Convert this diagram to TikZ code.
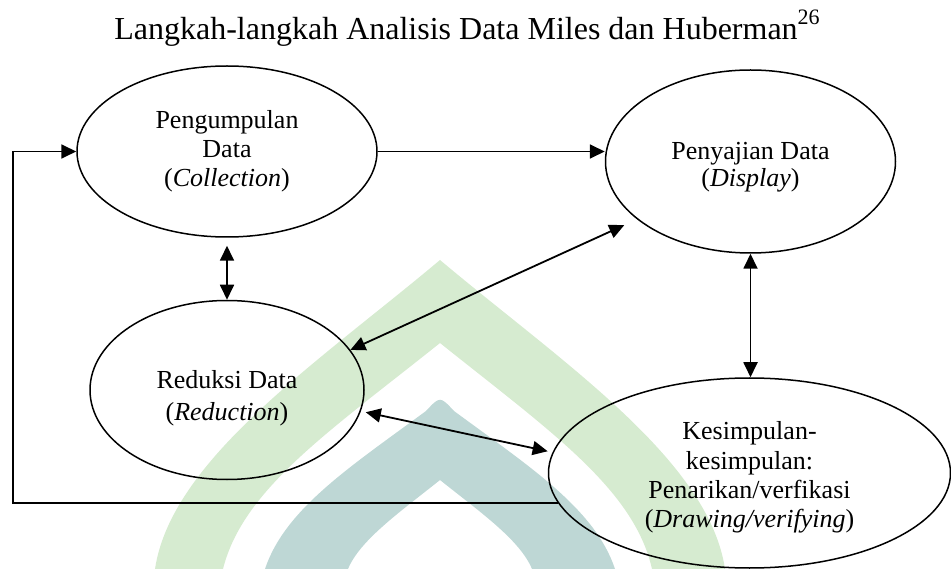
\documentclass[tikz,border=0pt]{standalone}
\usepackage{fontspec}
\setmainfont{Liberation Serif}
\usetikzlibrary{shapes.geometric,arrows.meta}

\definecolor{logogreen}{RGB}{214,235,208}
\definecolor{logoteal}{RGB}{190,215,213}

\newcommand{\dropto}[1]{\rule{0pt}{#1}}

\begin{document}
\begin{tikzpicture}[x=1pt,y=-1pt,
        oval/.style={draw,ellipse,line width=1.5pt,inner sep=0pt,align=center,
            font=\fontsize{26}{#1}\selectfont},
        link/.style={line width=1.8pt},
        >={Triangle[length=15pt,width=14pt]}]

        \useasboundingbox (0,0) rectangle (951,569);

        \fill[logogreen] (155,569) .. controls (171.5,459) and (320,361) .. (440,260)
            .. controls (560,361) and (708.5,459) .. (725,569) -- (652,569)
            .. controls (634,489) and (550,431) .. (440,343)
            .. controls (330,431) and (243,489) .. (223,569) -- cycle;
        \fill[logoteal] (265,569) .. controls (285,509) and (350,467) .. (426,411)
            .. controls (440,396) .. (454,411)
            .. controls (530,467) and (595,509) .. (615,569) -- (532,569)
            .. controls (520,540) and (480,512) .. (440,480)
            .. controls (400,512) and (360,540) .. (348,569) -- cycle;

        \node[font=\fontsize{32}{36}\selectfont,anchor=base] at (467,40) (title)
            {Langkah-langkah Analisis Data Miles dan Huberman\raisebox{15pt}{\fontsize{22}{22}\selectfont 26}};

        \node[oval=29,minimum width=300pt,minimum height=171pt] at (227,151.5) (A)
            {Pengumpulan\\Data\\(\textit{Collection})};
        \node[oval=27,minimum width=290pt,minimum height=183pt] at (750.5,161.5) (B)
            {\dropto{28.4pt}Penyajian Data\\(\textit{Display})};
        \node[oval=32,minimum width=274pt,minimum height=179pt] at (227,390) (C)
            {\dropto{33.6pt}Reduksi Data\\(\textit{Reduction})};
        \node[oval=29.3,minimum width=402pt,minimum height=190pt] at (749.5,473) (D)
            {\dropto{27.4pt}Kesimpulan-\\kesimpulan:\\Penarikan/verfikasi\\(\textit{Drawing/verifying})};

        \coordinate (back) at (13,0);

        \draw[link,->] (A.east) -- (A.east -| B.west);
        \draw[link,<->,shorten <=8pt] (A.south) -- (C.north);
        \draw[link,<->] (B.south) -- (B.south |- D.north);
        \draw[link,<->,shorten >=14pt] (C.18) -- (B.207);
        \draw[link,<->,shorten <=5pt,shorten >=5pt] (C.-9) -- (D.174);
        \draw[link,->] (D.189) -- (D.189 -| back) |- (A.west);

    \end{tikzpicture}
\end{document}
